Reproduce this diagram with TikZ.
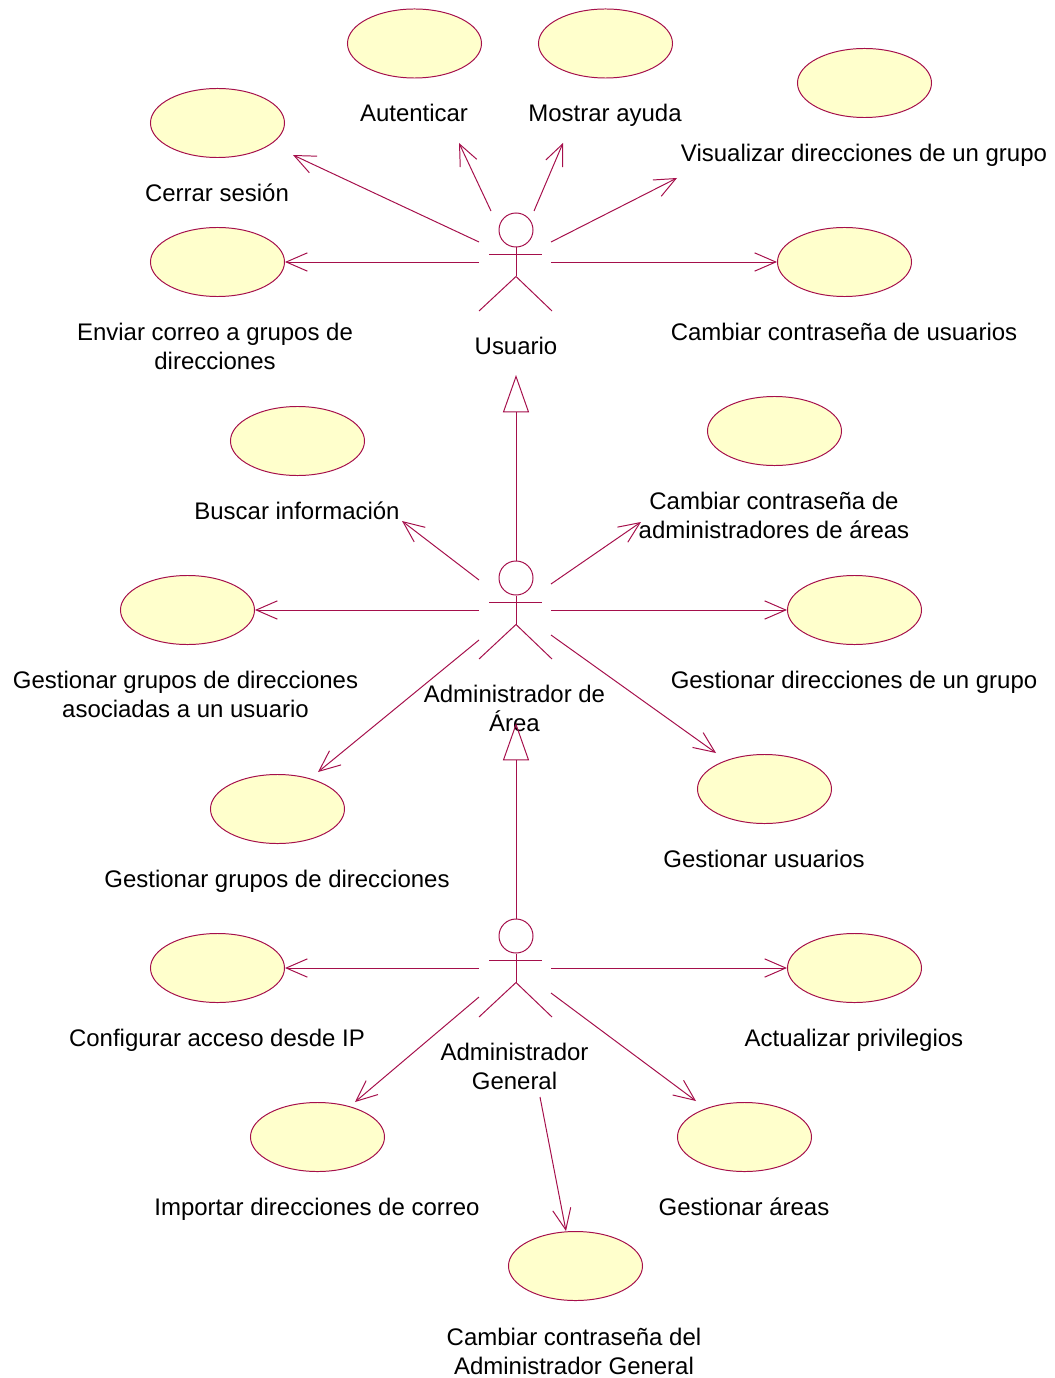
\documentclass[tikz,border=0pt]{standalone}
\usepackage{fontspec}
\setmainfont{Liberation Sans}
\usetikzlibrary{arrows.meta,shapes.geometric}

\definecolor{umlline}{RGB}{165,15,75}
\definecolor{umlfill}{RGB}{255,255,204}

\tikzset{
    usecase/.style={draw=umlline, fill=umlfill, ellipse, line width=0.7pt, minimum width=3.35cm, minimum height=1.725cm, inner sep=0, xshift=0.35pt},
    actorhead/.style={draw=umlline, circle, line width=0.7pt, minimum size=0.85cm, inner sep=0},
    caption/.style={align=center, inner sep=0, text depth=3.6pt, yshift=-1.8pt, font=\fontsize{17.05}{20.5}\selectfont},
    assoc/.style={draw=umlline, line width=0.7pt, -{Straight Barb[length=15pt,width=13pt,line width=0.7pt]}},
    inherit/.style={draw=umlline, line width=0.7pt, -{Triangle[open,length=26.5pt,width=18.5pt,line width=0.7pt]}},
    limb/.style={draw=umlline, line width=0.7pt}
}

\begin{document}
\begin{tikzpicture}[x=0.025cm, y=-0.025cm]
    \useasboundingbox (0, 0) rectangle (1054, 1378);

    % Use cases of Usuario
    \node[usecase] (autenticar) at (414, 43.5) {};
    \node[usecase] (ayuda) at (605, 43.5) {};
    \node[usecase] (visualizar) at (864, 83) {};
    \node[usecase] (cerrar) at (217, 123) {};
    \node[usecase] (enviar) at (217, 262) {};
    \node[usecase] (cambiarusu) at (844, 262) {};

    \node[caption] (autenticartxt) at (414, 113) {Autenticar};
    \node[caption] (ayudatxt) at (605, 113) {Mostrar ayuda};
    \node[caption] (visualizartxt) at (864, 153) {Visualizar direcciones de un grupo};
    \node[caption] (cerrartxt) at (217, 193) {Cerrar sesión};
    \node[caption] (enviartxt) at (215, 346) {Enviar correo a grupos de\\direcciones};
    \node[caption] (cambiarusutxt) at (844, 332) {Cambiar contraseña de usuarios};

    % Use cases of Administrador de Area
    \node[usecase] (buscar) at (297, 441) {};
    \node[usecase] (cambiaradm) at (774, 431) {};
    \node[usecase] (asociados) at (187, 610) {};
    \node[usecase] (dirgrupo) at (854, 610) {};
    \node[usecase] (grupos) at (277, 809) {};
    \node[usecase] (usuarios) at (764, 789) {};

    \node[caption] (buscartxt) at (297, 511) {Buscar información};
    \node[caption] (cambiaradmtxt) at (774, 515) {Cambiar contraseña de\\administradores de áreas};
    \node[caption] (asociadostxt) at (185.5, 694) {Gestionar grupos de direcciones\\asociadas a un usuario};
    \node[caption] (dirgrupotxt) at (854, 680) {Gestionar direcciones de un grupo};
    \node[caption] (grupostxt) at (277, 879) {Gestionar grupos de direcciones};
    \node[caption] (usuariostxt) at (764, 859) {Gestionar usuarios};

    % Use cases of Administrador General
    \node[usecase] (acceso) at (217, 968) {};
    \node[usecase] (privilegios) at (854, 968) {};
    \node[usecase] (importar) at (317, 1137) {};
    \node[usecase] (areas) at (744, 1137) {};
    \node[usecase] (cambiargen) at (575, 1266) {};

    \node[caption] (accesotxt) at (217, 1038) {Configurar acceso desde IP};
    \node[caption] (privilegiostxt) at (854, 1038) {Actualizar privilegios};
    \node[caption] (importartxt) at (317, 1207) {Importar direcciones de correo};
    \node[caption] (areastxt) at (744, 1207) {Gestionar áreas};
    \node[caption] (cambiargentxt) at (574, 1351) {Cambiar contraseña del\\Administrador General};

    % Actors
    \foreach \actor/\y in {usuario/230, admin/578, general/936} {
        \node[actorhead] (\actor) at (516, \y) {};
        \draw[limb] (\actor.south) -- ++(0, 29) coordinate (\actor hip);
        \draw[limb] (489, \y+24) -- (542, \y+24);
        \draw[limb] (479, \y+81) -- (\actor hip) -- (552, \y+81);
    }
    \node[caption] (usuariotxt) at (516, 346) {Usuario};
    \node[caption] (admintxt) at (514.5, 708) {Administrador de\\Área};
    \node[caption] (generaltxt) at (514.5, 1066) {Administrador\\General};

    % Free ends of the connectors
    \coordinate (u1) at (491, 211);
    \coordinate (u2) at (534, 211);
    \coordinate (u3) at (551, 242);
    \coordinate (u4) at (479, 242);
    \coordinate (u5) at (479, 262);
    \coordinate (u6) at (551, 262);
    \coordinate (e1) at (459, 143);
    \coordinate (e2) at (563, 143);
    \coordinate (e3) at (677, 178);
    \coordinate (e4) at (293, 155);
    \coordinate (a1) at (479, 580);
    \coordinate (a2) at (551, 584);
    \coordinate (a3) at (479, 610);
    \coordinate (a4) at (551, 610);
    \coordinate (a5) at (479, 640);
    \coordinate (a6) at (551, 635);
    \coordinate (f1) at (402, 521);
    \coordinate (f2) at (641, 522);
    \coordinate (f5) at (318, 772);
    \coordinate (f6) at (716, 753);
    \coordinate (g1) at (479, 968);
    \coordinate (g2) at (551, 968);
    \coordinate (g3) at (479, 997);
    \coordinate (g4) at (551, 993);
    \coordinate (g5) at (540, 1097);
    \coordinate (h3) at (355, 1102);
    \coordinate (h4) at (696, 1101);
    \coordinate (h5) at (566, 1231);
    \coordinate (t1) at (516, 375);
    \coordinate (t2) at (516, 723);

    % Arrows from Usuario
    \draw[assoc] (u1) -- (e1);
    \draw[assoc] (u2) -- (e2);
    \draw[assoc] (u3) -- (e3);
    \draw[assoc] (u4) -- (e4);
    \draw[assoc] (u5) -- (enviar.east);
    \draw[assoc] (u6) -- (cambiarusu.west);

    % Arrows from Administrador de Area
    \draw[inherit] (admin.north) -- (t1);
    \draw[assoc] (a1) -- (f1);
    \draw[assoc] (a2) -- (f2);
    \draw[assoc] (a3) -- (asociados.east);
    \draw[assoc] (a4) -- (dirgrupo.west);
    \draw[assoc] (a5) -- (f5);
    \draw[assoc] (a6) -- (f6);

    % Arrows from Administrador General
    \draw[inherit] (general.north) -- (t2);
    \draw[assoc] (g1) -- (acceso.east);
    \draw[assoc] (g2) -- (privilegios.west);
    \draw[assoc] (g3) -- (h3);
    \draw[assoc] (g4) -- (h4);
    \draw[assoc] (g5) -- (h5);
\end{tikzpicture}
\end{document}
